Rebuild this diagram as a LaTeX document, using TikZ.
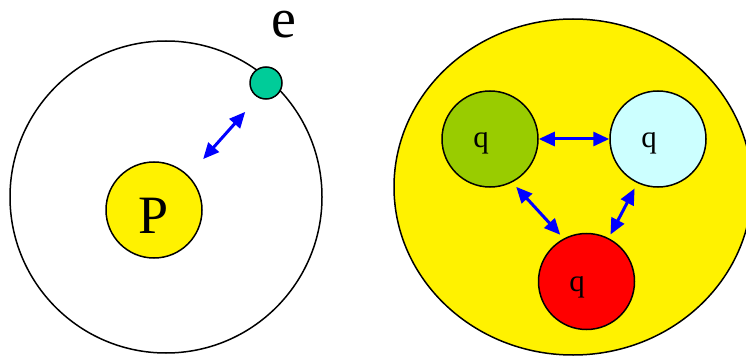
\documentclass[tikz,border=0pt]{standalone}
\usepackage{fontspec}
\setmainfont{Liberation Serif}
\usetikzlibrary{arrows.meta,calc}
\definecolor{teal1}{HTML}{00CC99}
\definecolor{green1}{HTML}{99CC00}
\definecolor{cyan1}{HTML}{CCFFFF}
\definecolor{blue1}{HTML}{0000FF}
\tikzset{
  ball/.style={circle,draw=black,line width=1.5pt,inner sep=0pt,minimum size=#1},
  qtext/.style={font=\fontsize{31}{31}\selectfont,inner sep=0pt},
  dbl/.style={draw=blue1,line width=3pt,{Triangle[length=16pt,width=14pt]}-{Triangle[length=16pt,width=14pt]}},
}
\begin{document}
\begin{tikzpicture}[x=1pt,y=-1pt]
\useasboundingbox (0,0) rectangle (746,358);
% left atom
\node[ball=312pt,fill=white] (orbit) at (166,197) {};
\node[ball=96pt,fill=yellow] (P) at (154,210) {};
\node[font=\fontsize{54}{54}\selectfont,inner sep=0pt,anchor=base] at (154,233) {P};
\node[ball=32pt,fill=teal1] (el) at (266,83) {};
\node[font=\fontsize{56}{56}\selectfont,inner sep=0pt,anchor=base] (elab) at (284,38) {e};
\draw[dbl,shorten <=22pt,shorten >=19pt] (P.45) -- (el.241);
% right nucleon
\clip (0,0) rectangle (746,358);
\draw[fill=yellow,line width=1.5pt] (573,187) ellipse [x radius=179pt,y radius=168pt];
\node[ball=96pt,fill=green1] (g) at (490,139) {};
\node[ball=96pt,fill=cyan1] (c) at (658,139) {};
\node[ball=96pt,fill=red] (r) at (586.5,281.5) {};
\node[qtext,anchor=base] at (481,148) {q};
\node[qtext,anchor=base] at (649,148) {q};
\node[qtext,anchor=base] at (577,291) {q};
\draw[dbl] (g) -- (c);
\draw[dbl,shorten <=6pt,shorten >=5pt] (g.-63) -- (r.118);
\draw[dbl,shorten <=6pt,shorten >=4pt] (c.-115) -- (r.63);
\end{tikzpicture}
\end{document}
